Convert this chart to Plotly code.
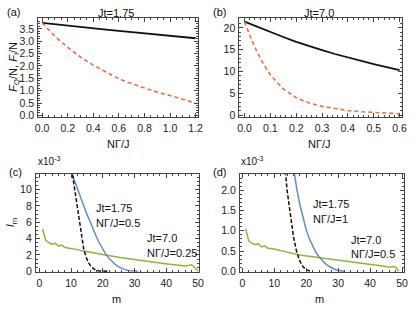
import plotly.graph_objects as go

W, H = 415, 312
FONT = "Liberation Sans, Arial, sans-serif"

# ---------------- data ----------------
# (a) Jt = 1.75
a_x = [0.0, 0.1, 0.2, 0.3, 0.4, 0.5, 0.6, 0.7, 0.8, 0.9, 1.0, 1.1, 1.2]
a_FQ = [3.74, 3.68, 3.63, 3.58, 3.52, 3.47, 3.42, 3.37, 3.32, 3.27, 3.22, 3.17, 3.12]
a_FI = [3.74, 3.20, 2.75, 2.36, 2.03, 1.74, 1.48, 1.28, 1.10, 0.94, 0.80, 0.66, 0.50]

# (b) Jt = 7.0
b_x = [0.0, 0.025, 0.05, 0.075, 0.1, 0.15, 0.2, 0.25, 0.3, 0.35, 0.4, 0.45, 0.5, 0.55, 0.6]
b_FQ = [21.4, 20.8, 20.2, 19.6, 19.0, 17.9, 16.8, 15.8, 14.9, 14.0, 13.2, 12.4, 11.7, 11.0, 10.3]
b_FI = [21.4, 17.6, 14.3, 11.5, 9.2, 6.0, 4.0, 2.8, 2.0, 1.45, 1.05, 0.78, 0.58, 0.42, 0.32]

# (c) I_m (x10^-3)
c_m_black = [9, 10, 11, 12, 13, 14, 15, 16, 17, 18, 19, 20, 21, 22]
c_black = [15.5, 12.9, 10.2, 7.4, 4.9, 2.7, 1.45, 0.72, 0.32, 0.12, 0.04, 0.01, 0.0, 0.0]
c_m_blue = [8, 9, 10, 11, 12, 13, 14, 15, 16, 17, 18, 19, 20, 21, 22, 23, 24, 25, 26,
            27, 28, 29, 30, 31]
c_blue = [14.4, 13.3, 12.2, 11.2, 10.1, 9.1, 8.0, 7.0, 6.0, 5.1, 4.2, 3.4, 2.7, 2.05,
          1.55, 1.12, 0.8, 0.54, 0.34, 0.2, 0.1, 0.045, 0.015, 0.0]
c_m_green = list(range(1, 51))
c_green = [5.2, 3.8, 3.5, 3.3, 3.45, 3.1, 3.2, 2.95, 2.85, 2.8,
           2.7, 2.65, 2.55, 2.5, 2.42, 2.38, 2.3, 2.22, 2.12, 2.04,
           1.98, 1.9, 1.85, 1.78, 1.72, 1.66, 1.6, 1.52, 1.46, 1.4,
           1.35, 1.3, 1.26, 1.2, 1.16, 1.1, 1.06, 1.0, 0.96, 0.92,
           0.88, 0.83, 0.79, 0.74, 0.7, 0.64, 0.72, 0.8, 0.42, 0.02]

# (d) I_m (x10^-3)
d_m_black = [12, 13, 14, 15, 16, 17, 18, 19, 20, 21, 22]
d_black = [3.5, 2.9, 2.0, 1.35, 0.85, 0.48, 0.25, 0.11, 0.04, 0.01, 0.0]
d_m_blue = [15, 16, 17, 18, 19, 20, 21, 22, 23, 24, 25, 26, 27, 28, 29, 30, 31, 32]
d_blue = [3.1, 2.55, 2.05, 1.65, 1.3, 1.02, 0.8, 0.62, 0.47, 0.36, 0.27, 0.19, 0.13,
          0.08, 0.045, 0.02, 0.008, 0.0]
d_m_green = list(range(1, 50))
d_green = [1.05, 0.75, 0.69, 0.66, 0.68, 0.6, 0.63, 0.57, 0.56, 0.55,
           0.53, 0.51, 0.49, 0.47, 0.45, 0.43, 0.41, 0.4, 0.39, 0.38,
           0.37, 0.36, 0.35, 0.34, 0.33, 0.32, 0.31, 0.3, 0.29, 0.28,
           0.27, 0.26, 0.25, 0.24, 0.23, 0.22, 0.21, 0.2, 0.19, 0.18,
           0.17, 0.16, 0.15, 0.14, 0.12, 0.1, 0.12, 0.1, 0.0]

BLACK = "#111111"
RED = "#F26B43"
BLUE = "#5E8FCB"
GREEN = "#8DB53A"

fig = go.Figure()

def line(x, y, color, xa, ya, dash="solid", width=1.5):
    fig.add_trace(go.Scatter(x=x, y=y, mode="lines", xaxis=xa, yaxis=ya,
                             line=dict(color=color, width=width, dash=dash),
                             showlegend=False, hoverinfo="skip"))

line(a_x, a_FQ, BLACK, "x", "y", width=1.8)
line(a_x, a_FI, RED, "x", "y", dash="4px,3px", width=1.6)
line(b_x, b_FQ, BLACK, "x2", "y2", width=1.8)
line(b_x, b_FI, RED, "x2", "y2", dash="4px,3px", width=1.6)
line(c_m_green, c_green, GREEN, "x3", "y3", width=1.5)
line(c_m_blue, c_blue, BLUE, "x3", "y3", width=1.5)
line(c_m_black, c_black, BLACK, "x3", "y3", dash="4px,2px", width=1.5)
line(d_m_green, d_green, GREEN, "x4", "y4", width=1.5)
line(d_m_blue, d_blue, BLUE, "x4", "y4", width=1.5)
line(d_m_black, d_black, BLACK, "x4", "y4", dash="4px,2px", width=1.5)

def px_dom(x0, x1):
    return [x0 / W, x1 / W]

def py_dom(y0, y1):
    return [1 - y1 / H, 1 - y0 / H]

FRAME = "#444444"
TICKFONT = dict(family=FONT, size=10.5, color="#222222")

def ax(domain, rng, dtick, minor, fmt=None, anchor=None):
    d = dict(domain=domain, range=rng, dtick=dtick, tick0=0, showgrid=False,
             zeroline=False, showline=True, linecolor=FRAME, linewidth=1,
             mirror="allticks", ticks="inside", ticklen=4, tickcolor=FRAME,
             tickwidth=1, tickfont=TICKFONT, ticklabelstandoff=1,
             minor=dict(ticks="inside", ticklen=2, dtick=minor, tick0=0,
                        tickcolor=FRAME, showgrid=False),
             anchor=anchor)
    if fmt:
        d["tickformat"] = fmt
    return d

fig.update_layout(
    width=W, height=H, margin=dict(l=0, r=0, t=0, b=0),
    paper_bgcolor="white", plot_bgcolor="white",
    xaxis=ax(px_dom(36, 199), [-0.03, 1.22], 0.2, 0.05, ".1f", "y"),
    yaxis=ax(py_dom(18.5, 119), [-0.07, 3.93], 0.5, 0.1, ".1f", "x"),
    xaxis2=ax(px_dom(241, 407), [-0.02, 0.61], 0.1, 0.02, ".1f", "y2"),
    yaxis2=ax(py_dom(18.5, 119), [-0.45, 22.2], 5, 1, None, "x2"),
    xaxis3=ax(px_dom(33.5, 199.5), [-1.1, 50.2], 10, 2, None, "y3"),
    yaxis3=ax(py_dom(177, 276.5), [-0.1, 11.9], 2, 0.5, None, "x3"),
    xaxis4=ax(px_dom(241.5, 408.5), [-0.8, 50.5], 10, 2, None, "y4"),
    yaxis4=ax(py_dom(177, 276.5), [-0.02, 2.4], 0.5, 0.1, ".1f", "x4"),
)

def ann(xp, yp, text, anchor="center", size=11, angle=0):
    fig.add_annotation(x=xp / W, y=1 - yp / H, xref="paper", yref="paper",
                       text=text, showarrow=False, xanchor=anchor,
                       yanchor="middle", textangle=angle,
                       font=dict(family=FONT, size=size, color="#111111"))

ann(11, 12.5, "(a)")
ann(221, 12.5, "(b)")
ann(115, 13, "Jt=1.75")
ann(322, 13, "Jt=7.0")
ann(118, 146, "NΓ/J")
ann(323, 146, "NΓ/J")
ann(11, 68, "<i>F</i><sub>Q</sub>/N, <i>F</i><sub>I</sub>/N", angle=-90)

ann(13, 175, "(c)")
ann(221, 175, "(d)")
ann(34, 164, "x10<sup>-3</sup>", anchor="left", size=10)
ann(241, 164, "x10<sup>-3</sup>", anchor="left", size=10)
ann(9, 226, "<i>I</i><sub>m</sub>", angle=-90)
ann(116, 304, "m")
ann(323, 304, "m")

ann(93, 211, "Jt=1.75", anchor="left")
ann(93, 226.5, "NΓ/J=0.5", anchor="left")
ann(145, 242, "Jt=7.0", anchor="left")
ann(145, 257.5, "NΓ/J=0.25", anchor="left")

ann(314, 207, "Jt=1.75", anchor="left")
ann(314, 222.5, "NΓ/J=1", anchor="left")
ann(353, 244, "Jt=7.0", anchor="left")
ann(353, 258.5, "NΓ/J=0.5", anchor="left")

fig.write_html("out.html",
               config={"displayModeBar": False, "staticPlot": True},
               post_script="document.body.style.margin='0px';"
                           "document.body.style.overflow='hidden';")
